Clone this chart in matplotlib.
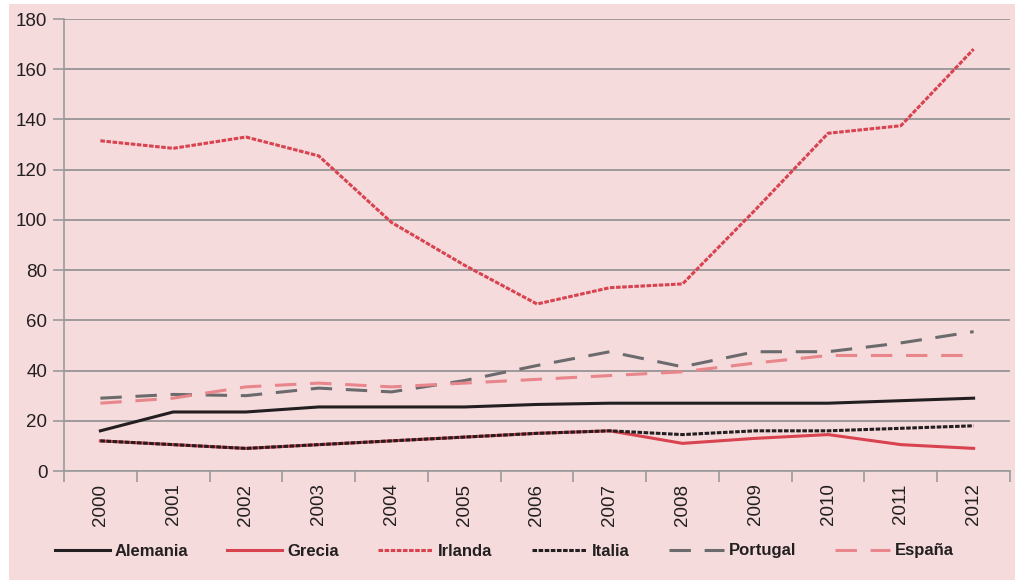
import matplotlib
matplotlib.use("Agg")
import matplotlib.pyplot as plt
from matplotlib.patches import Rectangle

# Data
years = ["2000", "2001", "2002", "2003", "2004", "2005", "2006",
         "2007", "2008", "2009", "2010", "2011", "2012"]
alemania = [16, 23.5, 23.5, 25.5, 25.5, 25.5, 26.5, 27, 27, 27, 27, 28, 29]
grecia = [12, 10.5, 9, 10.5, 12, 13.5, 15, 16, 11, 13, 14.5, 10.5, 9]
irlanda = [131.5, 128.5, 133, 125.5, 99, 82, 66.5, 73, 74.5, 104, 134.5, 137.5, 168]
italia = [12, 10.5, 9, 10.5, 12, 13.5, 15, 16, 14.5, 16, 16, 17, 18]
portugal = [29, 30.5, 30, 33, 31.5, 36, 42, 47.5, 41.5, 47.5, 47.5, 51, 55.5]
espana = [27, 29, 33.5, 35, 33.5, 35, 36.5, 38, 39.5, 43, 46, 46, 46]
y_ticks = [0, 20, 40, 60, 80, 100, 120, 140, 160, 180]

pink = "#F6DBDD"
red = "#D8434F"
light_red = "#E8868B"
grey = "#6B6B6D"
black = "#231F20"

plt.rcParams['font.family'] = ['Liberation Sans', 'DejaVu Sans']

fig = plt.figure(figsize=(10.15, 5.8), dpi=100)
fig.patch.set_facecolor("white")
fig.patches.append(Rectangle((9 / 1015, 0), 1, (580 - 4) / 580,
                             transform=fig.transFigure, facecolor=pink,
                             edgecolor="none", zorder=-10))

ax = fig.add_axes([64 / 1015, (580 - 471) / 580, (1010 - 64) / 1015, (471 - 19) / 580])
ax.set_facecolor("none")

x = list(range(len(years)))
ax.plot(x, alemania, color=black, lw=2.2, label="Alemania")
ax.plot(x, grecia, color=red, lw=2.2, label="Grecia")
ax.plot(x, irlanda, color=red, lw=2.2, ls=(0, (1.5, 0.5)), label="Irlanda")
ax.plot(x, italia, color=black, lw=2.2, ls=(0, (1.5, 0.5)), label="Italia")
ax.plot(x, portugal, color=grey, lw=2.2, ls=(0, (7, 4.5)), label="Portugal")
ax.plot(x, espana, color=light_red, lw=2.2, ls=(0, (7, 4.5)), label="España")

ax.set_xlim(-0.5, len(years) - 0.5)
ax.set_ylim(0, 180)
ax.set_yticks(y_ticks)
ax.set_xticks(x)
ax.set_xticklabels(years, rotation=90)
ax.set_xticks([i - 0.5 for i in range(len(years) + 1)], minor=True)
ax.tick_params(axis="x", which="major", length=0, pad=9, labelsize=13.5, colors=black)
ax.tick_params(axis="x", which="minor", length=8, width=1.2, color="#9A9A9A")
ax.tick_params(axis="y", length=8, width=1.2, color="#9A9A9A", labelsize=13.5,
               labelcolor=black, pad=4)

ax.grid(axis="y", color="#8E8E8E", lw=1.2)
ax.set_axisbelow(True)
for s in ["top", "right"]:
    ax.spines[s].set_visible(False)
ax.spines["left"].set_color("#9A9A9A")
ax.spines["bottom"].set_color("#9A9A9A")
ax.spines["left"].set_linewidth(1.2)
ax.spines["bottom"].set_linewidth(1.2)

handles, labels = ax.get_legend_handles_labels()
leg = fig.legend(handles, labels, loc="center", bbox_to_anchor=(0.497, 1 - 551 / 580),
                 ncol=6, frameon=False, handlelength=3.3, handletextpad=0.3,
                 columnspacing=2.35,
                 prop={'weight': 'bold', 'size': 12})
for t in leg.get_texts():
    t.set_color(black)

fig.savefig("out.png", dpi=100)
